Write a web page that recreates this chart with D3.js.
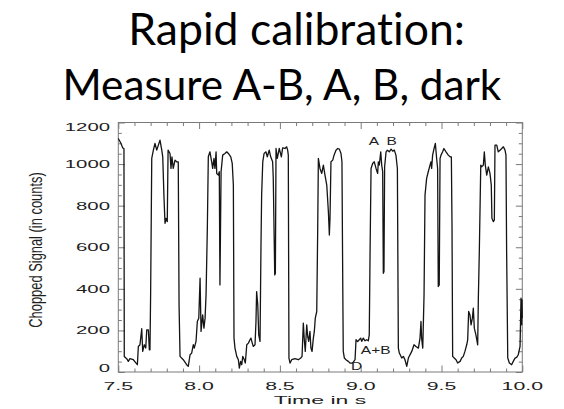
<!DOCTYPE html>
<html>
<head>
<meta charset="utf-8">
<script src="https://cdn.jsdelivr.net/npm/d3@7"></script>
<style>
  html, body { margin: 0; padding: 0; background: #ffffff; }
  svg { display: block; }
  .title { font-family: Lato, 'Open Sans', sans-serif; font-variant-ligatures: none; font-feature-settings: "liga" 0, "clig" 0; }
</style>
</head>
<body>
<svg id="chart" width="564" height="409"></svg>
<script>
// ---- text ----
const titleLines = ["Rapid calibration:", "Measure A-B, A, B, dark"];
const xLabel = "Time in s";
const yLabel = "Chopped Signal (in counts)";

// ---- axis ticks ----
const xTickValues = [7.5, 8.0, 8.5, 9.0, 9.5, 10.0];
const yTickValues = [0, 200, 400, 600, 800, 1000, 1200];

// ---- chopped detector signal: time (s) ----
const timeS = [
  7.500, 7.517, 7.527, 7.535, 7.537, 7.552, 7.562, 7.572, 7.593, 7.610, 7.618, 7.624, 7.634, 7.645, 7.651, 7.661,
  7.670, 7.676, 7.686, 7.692, 7.696, 7.700, 7.707, 7.717, 7.727, 7.738, 7.748, 7.758, 7.769, 7.775, 7.783, 7.789,
  7.795, 7.803, 7.808, 7.820, 7.826, 7.832, 7.840, 7.851, 7.861, 7.871, 7.876, 7.882, 7.902, 7.923, 7.933, 7.944,
  7.954, 7.964, 7.970, 7.981, 7.989, 7.998, 8.006, 8.012, 8.022, 8.030, 8.037, 8.043, 8.051, 8.057,
  8.067, 8.078, 8.084, 8.092, 8.098, 8.105, 8.109, 8.119, 8.125, 8.129, 8.136, 8.146, 8.160, 8.171, 8.181, 8.196,
  8.205, 8.212, 8.216, 8.222, 8.233, 8.243, 8.249, 8.257, 8.264, 8.270, 8.280, 8.286, 8.295, 8.305, 8.315, 8.321,
  8.329, 8.335, 8.346, 8.352, 8.356, 8.363, 8.369, 8.377, 8.383, 8.387, 8.394, 8.402, 8.414, 8.422, 8.434, 8.443,
  8.455, 8.459, 8.468, 8.472, 8.476, 8.484, 8.496, 8.509, 8.517, 8.532, 8.542, 8.548, 8.552, 8.556, 8.563, 8.573,
  8.593, 8.614, 8.629, 8.637, 8.645, 8.651, 8.657, 8.666, 8.672, 8.678, 8.686, 8.692, 8.699, 8.707, 8.713, 8.719,
  8.728, 8.734,
  8.738, 8.748, 8.759, 8.769, 8.779, 8.790, 8.800, 8.806, 8.810, 8.816, 8.827, 8.835, 8.847, 8.858, 8.868, 8.878,
  8.884, 8.889, 8.892, 8.899, 8.909, 8.923, 8.934, 8.950, 8.965, 8.971, 8.981, 8.991, 9.000, 9.006, 9.016, 9.027,
  9.037, 9.047, 9.053, 9.058, 9.064, 9.074, 9.084, 9.095, 9.105, 9.109, 9.115, 9.124, 9.130, 9.136, 9.140, 9.144,
  9.148, 9.157, 9.165, 9.177, 9.188, 9.198, 9.208, 9.218, 9.227, 9.233, 9.239, 9.254, 9.264, 9.274, 9.285, 9.295,
  9.316, 9.330, 9.342, 9.357, 9.367, 9.373, 9.377, 9.384, 9.387, 9.392, 9.398, 9.408, 9.418, 9.429, 9.435, 9.439,
  9.445, 9.454, 9.462, 9.470, 9.476, 9.480, 9.486, 9.491, 9.497, 9.507, 9.515, 9.528, 9.542, 9.553, 9.561, 9.565,
  9.569, 9.579, 9.590, 9.600, 9.615, 9.625, 9.635, 9.645, 9.656, 9.662, 9.668, 9.676, 9.683, 9.691, 9.697, 9.703,
  9.713, 9.724, 9.728, 9.734, 9.743, 9.749, 9.759, 9.765, 9.771, 9.780, 9.790, 9.800, 9.808, 9.812, 9.821, 9.827,
  9.831, 9.842, 9.851, 9.862, 9.873, 9.883, 9.893, 9.899, 9.903, 9.910, 9.920, 9.934, 9.944, 9.955, 9.965, 9.975,
  9.986, 9.992, 9.996, 9.998, 10.000
];

// ---- chopped detector signal: counts ----
const signalCounts = [
  1123, 1099, 1078, 1075, 75, 64, 51, 64, 59, 43, 35, 123, 131, 208, 99, 131,
  115, 203, 203, 107, 107, 371, 1027, 1067, 1099, 1067, 1091, 1115, 1067, 1035, 835, 715,
  739, 723, 1067, 1051, 979, 1035, 979, 1019, 1011, 1011, 323, 75, 59, 35, 27, 83,
  91, 131, 115, 147, 243, 259, 451, 195, 275, 211, 259, 371, 691, 1035,
  1059, 1011, 979, 1027, 979, 1059, 955, 947, 963, 419, 963, 1043, 1051, 1059, 1051, 1035,
  1003, 899, 163, 115, 75, 59, 19, 51, 35, 75, 59, 43, 131, 139, 155, 163,
  139, 123, 131, 243, 387, 323, 179, 147, 611, 851, 1011, 1051, 1059, 1035, 1067, 1035,
  1011, 931, 467, 475, 1075, 1027, 1075, 1035, 1078, 1075, 1083, 1067, 1043, 67, 43, 59,
  64, 59, 67, 75, 235, 155, 99, 227, 171, 147, 195, 115, 99, 163, 195, 259,
  291, 691,
  1027, 979, 955, 995, 947, 899, 771, 659, 739, 1011, 1019, 1043, 1067, 1075, 1072, 1051,
  1011, 419, 99, 67, 59, 51, 43, 43, 59, 155, 147, 155, 163, 147, 163, 150,
  155, 150, 179, 579, 979, 1003, 1011, 979, 955, 1011, 995, 1059, 995, 963, 475, 483,
  987, 1059, 1067, 1059, 1072, 1062, 1067, 1043, 979, 115, 91, 67, 75, 59, 27, 67,
  99, 131, 123, 115, 163, 243, 163, 115, 211, 371, 851, 931, 963, 995, 1011, 979,
  1043, 1075, 1099, 1027, 979, 411, 419, 1027, 1043, 1059, 1075, 1059, 1043, 1035, 1035, 707,
  75, 67, 59, 43, 51, 67, 75, 99, 131, 155, 291, 275, 227, 259, 307, 211,
  179, 131, 355, 579, 995, 987, 995, 1059, 995, 947, 987, 955, 899, 739, 723, 731,
  1091, 1091, 1059, 1067, 1075, 1083, 1067, 1043, 579, 67, 43, 35, 51, 67, 70, 83,
  123, 355, 227, 347, 260
];

// ---- in-plot markers for the calibration states ----
const markerLabels = ["A", "B", "A+B", "D"];
const markerTimes = [9.081, 9.192, 9.093, 8.975];
const markerCounts = [1092, 1092, 86, 12];

// ---- layout ----
const svg = d3.select("#chart");
const plot = { left: 118.3, right: 522.3, top: 122.5, bottom: 372 };
const axisFont = "'Liberation Sans', Arial, Helvetica, sans-serif";
const frameColor = "#7a7a7a";
const textColor = "#1e1e1e";

const x = d3.scaleLinear().domain([7.5, 10.0]).range([plot.left, plot.right]);
const y = d3.scaleLinear().domain([0, 1200]).range([plot.bottom, plot.top]);

// title, two lines, each fitted to its own width
const titleLeft = [128.3, 62.5];
const titleBase = [45, 100];
const titleWidth = [336.7, 439];
titleLines.forEach((s, i) => {
  const t = svg.append("text")
    .attr("class", "title")
    .attr("x", titleLeft[i]).attr("y", titleBase[i])
    .style("font-size", "36px").attr("fill", "#000")
    .text(s);
  const size = 36 * titleWidth[i] / t.node().getComputedTextLength();
  t.style("font-size", size + "px");
});

// plot frame
svg.append("rect")
  .attr("x", plot.left).attr("y", plot.top)
  .attr("width", plot.right - plot.left).attr("height", plot.bottom - plot.top)
  .attr("fill", "none").attr("stroke", frameColor).attr("stroke-width", 1);

// inward ticks on all four sides, major and minor
const xMinor = d3.range(75, 100, 1).map(d => d / 10).filter(d => !xTickValues.includes(d));
const yMinor = d3.range(50, 1200, 50).filter(d => !yTickValues.includes(d));

function drawAxis(axis, transform) {
  const g = svg.append("g").attr("transform", transform).call(axis);
  g.select(".domain").remove();
  g.selectAll(".tick text").remove();
  g.selectAll(".tick line").attr("stroke", frameColor).attr("stroke-width", 1);
  return g;
}
drawAxis(d3.axisBottom(x).tickValues(xTickValues).tickSize(-6.5), `translate(0,${plot.bottom})`);
drawAxis(d3.axisBottom(x).tickValues(xMinor).tickSize(-3.5), `translate(0,${plot.bottom})`);
drawAxis(d3.axisTop(x).tickValues(xTickValues).tickSize(-6.5), `translate(0,${plot.top})`);
drawAxis(d3.axisTop(x).tickValues(xMinor).tickSize(-3.5), `translate(0,${plot.top})`);
drawAxis(d3.axisLeft(y).tickValues(yTickValues).tickSize(-6.5), `translate(${plot.left},0)`);
drawAxis(d3.axisLeft(y).tickValues(yMinor).tickSize(-3.5), `translate(${plot.left},0)`);
drawAxis(d3.axisRight(y).tickValues(yTickValues).tickSize(-6.5), `translate(${plot.right},0)`);
drawAxis(d3.axisRight(y).tickValues(yMinor).tickSize(-3.5), `translate(${plot.right},0)`);

// tick labels in a wide, stretched sans face
const fmtX = d3.format(".1f");
svg.append("g").selectAll("text").data(xTickValues).join("text")
  .attr("transform", d => `translate(${x(d)},389.5) scale(1.85,1)`)
  .attr("text-anchor", "middle")
  .style("font-family", axisFont).style("font-size", "11.5px")
  .attr("fill", textColor)
  .text(d => fmtX(d));

const yNudge = d => (d === 1200 ? 4 : d === 0 ? -4 : 0);
svg.append("g").selectAll("text").data(yTickValues).join("text")
  .attr("transform", d => `translate(110,${y(d) + yNudge(d) + 4}) scale(1.85,1)`)
  .attr("text-anchor", "end")
  .style("font-family", axisFont).style("font-size", "11px")
  .attr("fill", textColor)
  .text(d => d);

// axis titles
svg.append("text")
  .attr("transform", "translate(320,403.5) scale(2.0,1)")
  .attr("text-anchor", "middle")
  .style("font-family", axisFont).style("font-size", "11.5px")
  .attr("fill", textColor)
  .text(xLabel);

svg.append("text")
  .attr("transform", "translate(35,250) scale(1.45,1) rotate(-90)")
  .attr("text-anchor", "middle")
  .attr("dominant-baseline", "central")
  .style("font-family", axisFont).style("font-size", "12.9px")
  .attr("fill", textColor)
  .text(yLabel);

// signal trace
const points = d3.zip(timeS, signalCounts);
svg.append("path")
  .datum(points)
  .attr("fill", "none")
  .attr("stroke", "#141414")
  .attr("stroke-width", 1.3)
  .attr("stroke-linejoin", "round")
  .attr("d", d3.line().x(d => x(d[0])).y(d => y(d[1])));

// state markers
svg.append("g").selectAll("text").data(markerLabels).join("text")
  .attr("transform", (d, i) => `translate(${x(markerTimes[i])},${y(markerCounts[i])}) scale(1.55,1)`)
  .attr("text-anchor", "middle")
  .style("font-family", axisFont).style("font-size", "10px")
  .attr("fill", textColor)
  .text(d => d);
</script>
</body>
</html>
